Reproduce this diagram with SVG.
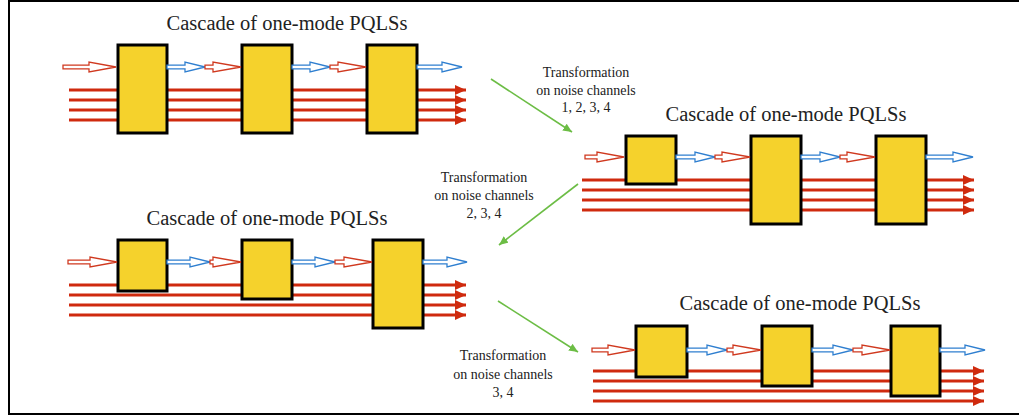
<svg xmlns="http://www.w3.org/2000/svg" width="1019" height="420" viewBox="0 0 1019 420">
<style>
.frame{fill:none;stroke:#000;stroke-width:2}
.box{fill:#f5d22c;stroke:#000;stroke-width:3}
.title{font-size:20.5px;fill:#222;text-anchor:middle}
.lbl{font-size:14px;fill:#222;text-anchor:middle}
.noise{stroke:#cf2a0e;stroke-width:3;fill:none;marker-end:url(#rh)}
.ra{fill:#fff;stroke:#d0391f;stroke-width:1.3;stroke-linejoin:miter}
.ba{fill:#fff;stroke:#2f7fd0;stroke-width:1.3;stroke-linejoin:miter}
.gr{stroke:#6cbd45;stroke-width:1.6;fill:none;marker-end:url(#gh)}
</style>
<defs>
<marker id="rh" markerUnits="userSpaceOnUse" markerWidth="12" markerHeight="11" refX="11" refY="5.5" orient="auto"><path d="M0,0.5 L11,5.5 L0,10.5 Z" fill="#cf2a0e"/></marker>
<marker id="gh" markerUnits="userSpaceOnUse" markerWidth="10" markerHeight="8" refX="9" refY="4" orient="auto"><path d="M0,0 L9,4 L0,8 Z" fill="#6cbd45"/></marker>
</defs>
<rect x="9" y="1" width="1020" height="413" fill="#fff"/>
<rect class="frame" x="9" y="1" width="1020" height="413"/>

<g id="connectors">
<line class="noise" x1="69" y1="90" x2="466" y2="90"/>
<line class="noise" x1="69" y1="100" x2="466" y2="100"/>
<line class="noise" x1="69" y1="110" x2="466" y2="110"/>
<line class="noise" x1="69" y1="120" x2="466" y2="120"/>
<line class="noise" x1="582" y1="180" x2="974" y2="180"/>
<line class="noise" x1="582" y1="190" x2="974" y2="190"/>
<line class="noise" x1="582" y1="200" x2="974" y2="200"/>
<line class="noise" x1="582" y1="210" x2="974" y2="210"/>
<line class="noise" x1="69" y1="285" x2="466" y2="285"/>
<line class="noise" x1="69" y1="295" x2="466" y2="295"/>
<line class="noise" x1="69" y1="305" x2="466" y2="305"/>
<line class="noise" x1="69" y1="315" x2="466" y2="315"/>
<line class="noise" x1="593" y1="371" x2="984" y2="371"/>
<line class="noise" x1="593" y1="381" x2="984" y2="381"/>
<line class="noise" x1="593" y1="391" x2="984" y2="391"/>
<line class="noise" x1="593" y1="401" x2="984" y2="401"/>
<line class="gr" x1="491" y1="79" x2="572" y2="132"/>
<line class="gr" x1="578" y1="184" x2="499" y2="245"/>
<line class="gr" x1="498" y1="301" x2="578" y2="352"/>
</g>

<g id="d1">
<text class="title" font-family="Liberation Serif, serif" x="287" y="30">Cascade of one-mode PQLSs</text>
<g id="d1-box1"><rect class="box" x="118" y="45" width="49" height="88"/></g>
<g id="d1-box2"><rect class="box" x="242" y="45" width="50" height="88"/></g>
<g id="d1-box3"><rect class="box" x="367" y="45" width="50" height="88"/></g>
</g>
<g id="d2">
<text class="title" font-family="Liberation Serif, serif" x="786" y="121">Cascade of one-mode PQLSs</text>
<g id="d2-box1"><rect class="box" x="626" y="136" width="50" height="48"/></g>
<g id="d2-box2"><rect class="box" x="751" y="136" width="50" height="88"/></g>
<g id="d2-box3"><rect class="box" x="876" y="136" width="50" height="88"/></g>
</g>
<g id="d3">
<text class="title" font-family="Liberation Serif, serif" x="267" y="225">Cascade of one-mode PQLSs</text>
<g id="d3-box1"><rect class="box" x="118" y="240" width="49" height="51"/></g>
<g id="d3-box2"><rect class="box" x="242" y="240" width="50" height="59"/></g>
<g id="d3-box3"><rect class="box" x="373" y="240" width="50" height="88"/></g>
</g>
<g id="d4">
<text class="title" font-family="Liberation Serif, serif" x="800" y="310">Cascade of one-mode PQLSs</text>
<g id="d4-box1"><rect class="box" x="636" y="326" width="51" height="51"/></g>
<g id="d4-box2"><rect class="box" x="762" y="326" width="50" height="60"/></g>
<g id="d4-box3"><rect class="box" x="891" y="326" width="49" height="70"/></g>
</g>

<g id="signal-arrows">
<polygon class="ra" points="63,65.2 89,65.2 89,62 116,67 89,72 89,68.8 63,68.8"/>
<polygon class="ba" points="167,65.2 185,65.2 185,62 205,67 185,72 185,68.8 167,68.8"/>
<polygon class="ra" points="205,65.2 213,65.2 213,62 241,67 213,72 213,68.8 205,68.8"/>
<polygon class="ba" points="292,65.2 310,65.2 310,62 330,67 310,72 310,68.8 292,68.8"/>
<polygon class="ra" points="330,65.2 338,65.2 338,62 366,67 338,72 338,68.8 330,68.8"/>
<polygon class="ba" points="417,65.2 442,65.2 442,62 462,67 442,72 442,68.8 417,68.8"/>

<polygon class="ra" points="585,155.2 597,155.2 597,152 624,157 597,162 597,158.8 585,158.8"/>
<polygon class="ba" points="676,155.2 695,155.2 695,152 715,157 695,162 695,158.8 676,158.8"/>
<polygon class="ra" points="715,155.2 722,155.2 722,152 750,157 722,162 722,158.8 715,158.8"/>
<polygon class="ba" points="801,155.2 820,155.2 820,152 840,157 820,162 820,158.8 801,158.8"/>
<polygon class="ra" points="840,155.2 847,155.2 847,152 875,157 847,162 847,158.8 840,158.8"/>
<polygon class="ba" points="926,155.2 953,155.2 953,152 973,157 953,162 953,158.8 926,158.8"/>

<polygon class="ra" points="68,260.2 90,260.2 90,257 117,262 90,267 90,263.8 68,263.8"/>
<polygon class="ba" points="167,260.2 190,260.2 190,257 210,262 190,267 190,263.8 167,263.8"/>
<polygon class="ra" points="210,260.2 213,260.2 213,257 241,262 213,267 213,263.8 210,263.8"/>
<polygon class="ba" points="292,260.2 315,260.2 315,257 335,262 315,267 315,263.8 292,263.8"/>
<polygon class="ra" points="335,260.2 344,260.2 344,257 372,262 344,267 344,263.8 335,263.8"/>
<polygon class="ba" points="423,260.2 447,260.2 447,257 467,262 447,267 447,263.8 423,263.8"/>

<polygon class="ra" points="592,348.2 608,348.2 608,345 635,350 608,355 608,351.8 592,351.8"/>
<polygon class="ba" points="687,348.2 707,348.2 707,345 727,350 707,355 707,351.8 687,351.8"/>
<polygon class="ra" points="727,348.2 733,348.2 733,345 761,350 733,355 733,351.8 727,351.8"/>
<polygon class="ba" points="812,348.2 833,348.2 833,345 853,350 833,355 833,351.8 812,351.8"/>
<polygon class="ra" points="853,348.2 862,348.2 862,345 890,350 862,355 862,351.8 853,351.8"/>
<polygon class="ba" points="940,348.2 965,348.2 965,345 985,350 965,355 965,351.8 940,351.8"/>
</g>

<g id="label1" font-family="Liberation Serif, serif">
<text class="lbl" x="586" y="77">Transformation</text>
<text class="lbl" x="586" y="94.5">on noise channels</text>
<text class="lbl" x="586" y="112">1, 2, 3, 4</text>
</g>
<g id="label2" font-family="Liberation Serif, serif">
<text class="lbl" x="484" y="182">Transformation</text>
<text class="lbl" x="484" y="199.5">on noise channels</text>
<text class="lbl" x="484" y="218">2, 3, 4</text>
</g>
<g id="label3" font-family="Liberation Serif, serif">
<text class="lbl" x="503" y="360">Transformation</text>
<text class="lbl" x="503" y="379">on noise channels</text>
<text class="lbl" x="503" y="397">3, 4</text>
</g>
</svg>
